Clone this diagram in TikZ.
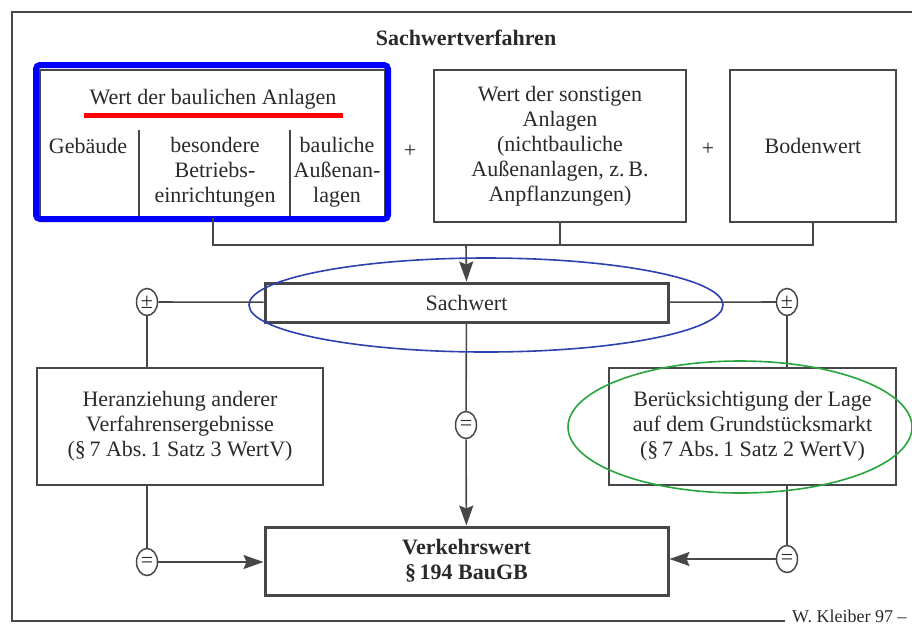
\documentclass[tikz,border=0pt]{standalone}
\usepackage{fontspec}
\setmainfont{Liberation Serif}
\usetikzlibrary{arrows.meta,shapes.geometric}
\definecolor{ink}{HTML}{2A2A2A}
\definecolor{ln}{HTML}{474747}
\definecolor{hlblue}{RGB}{0,0,255}
\definecolor{hlred}{RGB}{255,0,0}
\definecolor{elblue}{RGB}{45,65,175}
\definecolor{elgreen}{RGB}{40,165,60}
\begin{document}
\begin{tikzpicture}[x=1pt,y=-1pt,
  every node/.style={text=ink, font=\fontsize{22}{25}\selectfont},
  box/.style={draw=ln, line width=1.8pt, align=center, inner sep=0pt},
  bbox/.style={box, line width=3pt},
  conn/.style={draw=ln, line width=1.6pt},
  arr/.style={conn, -{Stealth[length=20pt,width=14pt,inset=3pt]}},
  sym/.style={draw=ln, line width=1.5pt, ellipse, minimum width=21pt, minimum height=27pt, inner sep=0pt, font=\fontsize{22}{22}\selectfont},
  lbl/.style={align=center, inner sep=0pt}
]
\useasboundingbox (0,0) rectangle (912,625);

% frame
\draw[conn] (915,12) -- (12,12) -- (12,621) -- (785,621);
\node[anchor=base west, font=\fontsize{18}{18}\selectfont, inner sep=0pt] (kl) at (792,622) {W. Kleiber 97 –};

\node[font=\bfseries\fontsize{22}{25}\selectfont] (title) at (466,38) {Sachwertverfahren};

% baulichen Anlagen
\node[box, minimum width=345pt, minimum height=147pt] (bau) at (212.5,143.5) {};
\node[lbl] (bautitle) at (213,99) {Wert der baulichen Anlagen};
\draw[hlred, line width=5pt] (84,115) -- (343,115);
\coordinate (d1a) at (139,130); \coordinate (d1b) at (139,217);
\coordinate (d2a) at (290,130); \coordinate (d2b) at (290,217);
\draw[conn] (d1a) -- (d1b);
\draw[conn] (d2a) -- (d2b);
\node[lbl] (geb) at (88,146) {Gebäude};
\node[lbl] (bes) at (215,172) {besondere\\Betriebs-\\einrichtungen};
\node[lbl] (aus) at (337,172) {bauliche\\Außenan-\\lagen};
\draw[hlblue, line width=6pt, rounded corners=4pt] (36,65) rectangle (388,219);

\node (plus1) at (410,151) {+};
\node[box, minimum width=252pt, minimum height=152pt] (sonst) at (560,146)
  {Wert der sonstigen\\Anlagen\\(nichtbauliche\\Außenanlagen, z.\,B.\\Anpflanzungen)};
\node (plus2) at (708,149) {+};
\node[box, minimum width=166pt, minimum height=152pt] (boden) at (813,146) {Bodenwert};

% junction
\coordinate (ja) at (213,245);
\coordinate (jb) at (466,245);
\coordinate (jc) at (560,245);
\coordinate (jd) at (813,245);

\node[bbox, minimum width=403pt, minimum height=39pt] (sach) at (466.5,302.5) {Sachwert};

\draw[conn] (bau.south -| ja) -- (ja) -- (jd) -- (boden.south);
\draw[conn] (sonst.south) -- (jc);
\draw[arr] (jb) -- (sach.north);

\node[sym] (pmL) at (147,302) {±};
\node[sym] (pmR) at (787,302) {±};
\draw[conn] (pmL) -- (sach);
\draw[conn] (sach) -- (pmR);

\node[box, minimum width=286pt, minimum height=117pt] (hera) at (180,426.5)
  {Heranziehung anderer\\Verfahrensergebnisse\\(§\,7 Abs.\,1 Satz 3 WertV)};
\node[box, minimum width=287pt, minimum height=117pt] (beru) at (752.5,426.5)
  {Berücksichtigung der Lage\\auf dem Grundstücksmarkt\\(§\,7 Abs.\,1 Satz 2 WertV)};
\draw[conn] (pmL) -- (pmL |- hera.north);
\draw[conn] (pmR) -- (pmR |- beru.north);

\node[bbox, minimum width=403pt, minimum height=68pt, font=\bfseries\fontsize{22}{25}\selectfont] (verk) at (466.5,561)
  {Verkehrswert\\§\,194 BauGB};

\node[sym] (eqM) at (466,425) {=};
\node[sym] (eqL) at (147,562) {=};
\node[sym] (eqR) at (787,559) {=};
\draw[conn] (sach) -- (eqM);
\draw[arr] (eqM) -- (verk);
\draw[conn] (hera.south -| eqL) -- (eqL);
\draw[arr] (eqL) -- (eqL -| verk.west);
\draw[conn] (beru.south -| eqR) -- (eqR);
\draw[arr] (eqR) -- (eqR -| verk.east);

% highlight ellipses
\draw[elblue, line width=1.6pt] (486,305) ellipse [x radius=237pt, y radius=47pt];
\draw[elgreen, line width=1.6pt] (740,427) ellipse [x radius=172pt, y radius=66pt];
\end{tikzpicture}
\end{document}
